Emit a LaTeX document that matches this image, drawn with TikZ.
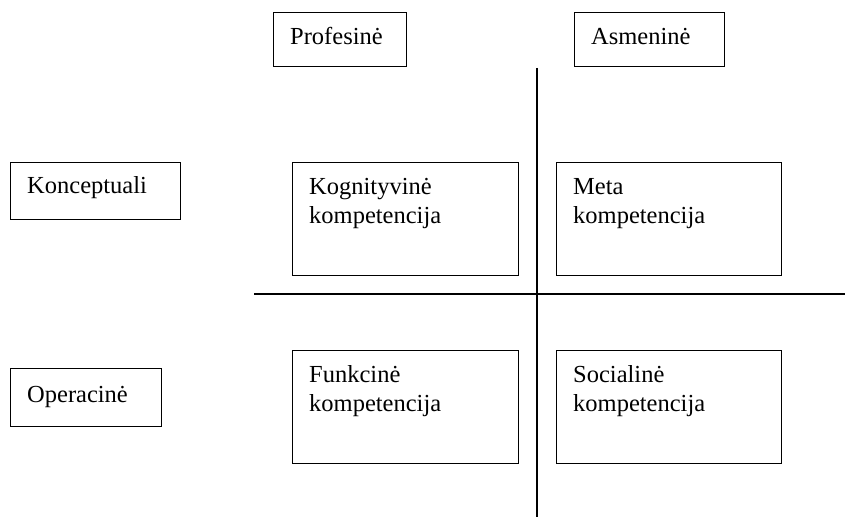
\documentclass[tikz,border=0pt]{standalone}
\usepackage{fontspec}
\setmainfont{Liberation Serif}
\begin{document}
\begin{tikzpicture}[x=1pt,y=-1pt,
  box/.style={draw=black, line width=1.2pt, inner sep=0pt, anchor=north west},
  lbl/.style={inner sep=0pt, anchor=north west, align=left, font=\fontsize{24.5}{29.5}\selectfont},
  axis/.style={draw=black, line width=1.3pt}]
\useasboundingbox (0,0) rectangle (845,518);
% header boxes
\node[box, minimum width=133pt, minimum height=54pt] (prof) at (273,12) {};
\node[box, minimum width=150pt, minimum height=54pt] (asm) at (574,12) {};
\node[lbl] (proft) at ([shift={(17,12)}]prof.north west) {\rule{0pt}{20pt}Profesinė};
\node[lbl] (asmt) at ([shift={(17,12)}]asm.north west) {\rule{0pt}{20pt}Asmeninė};
% row boxes
\node[box, minimum width=170pt, minimum height=57pt] (konc) at (10,162) {};
\node[box, minimum width=151pt, minimum height=58pt] (oper) at (10,368) {};
\node[lbl] (konct) at ([shift={(17,11)}]konc.north west) {\rule{0pt}{20pt}Konceptuali};
\node[lbl] (opert) at ([shift={(17,14)}]oper.north west) {\rule{0pt}{20pt}Operacinė};
% quadrant boxes
\node[box, minimum width=226pt, minimum height=113pt] (kog) at (292,162) {};
\node[box, minimum width=225pt, minimum height=113pt] (meta) at (556,162) {};
\node[box, minimum width=226pt, minimum height=113pt] (fun) at (292,350) {};
\node[box, minimum width=225pt, minimum height=113pt] (soc) at (556,350) {};
\node[lbl] (kogt) at ([shift={(17,12)}]kog.north west) {\rule{0pt}{20pt}Kognityvinė\\kompetencija};
\node[lbl] (metat) at ([shift={(17,12)}]meta.north west) {\rule{0pt}{20pt}Meta\\kompetencija};
\node[lbl] (funt) at ([shift={(17,12)}]fun.north west) {\rule{0pt}{20pt}Funkcinė\\kompetencija};
\node[lbl] (soct) at ([shift={(17,12)}]soc.north west) {\rule{0pt}{20pt}Socialinė\\kompetencija};
% axes
\coordinate (vt) at (537,68);
\coordinate (vb) at (537,517);
\coordinate (hl) at (254,294);
\coordinate (hr) at (845,294);
\draw[axis] (vt) -- (vb);
\draw[axis] (hl) -- (hr);
\end{tikzpicture}
\end{document}
